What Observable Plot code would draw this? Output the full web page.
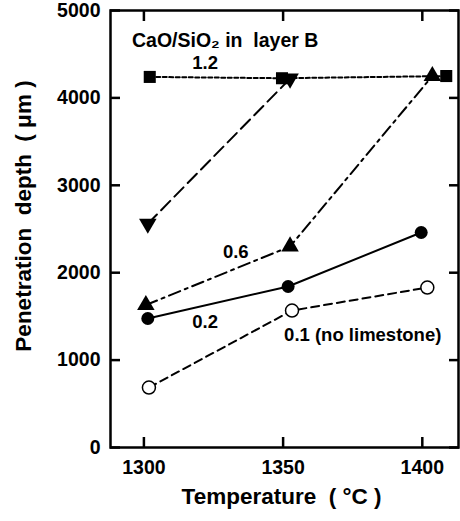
<!DOCTYPE html>
<html><head><meta charset="utf-8">
<script src="https://cdn.jsdelivr.net/npm/d3@7"></script>
<script src="https://cdn.jsdelivr.net/npm/@observablehq/plot@0.6"></script>
<style>
html,body{margin:0;padding:0;background:#fff;}
</style></head><body><div id="chart"></div>
<script>
// Temperatures (°C) and penetration depths (µm)
const ratio12_T = [1302.1, 1349.6, 1408.6];
const ratio12_D = [4240, 4225, 4250];
const seriesDown_T = [1301.4, 1352.5];
const seriesDown_D = [2560, 4220];
const ratio06_T = [1300.7, 1352.5, 1403.6];
const ratio06_D = [1630, 2300, 4250];
const ratio02_T = [1301.4, 1351.8, 1399.6];
const ratio02_D = [1476, 1842, 2460];
const ratio01_T = [1301.8, 1353.2, 1401.8];
const ratio01_D = [686, 1567, 1830];

const xTicks = [1300, 1350, 1400];
const yTicks = [0, 1000, 2000, 3000, 4000, 5000];

const titleText = ["CaO/SiO\u2082 in  layer B"];
const titleT = [1329.2];
const titleD = [4657];
const annText = ["1.2", "0.6", "0.2", "0.1 (no limestone)"];
const annT = [1322, 1333, 1322, 1378.6];
const annD = [4394, 2240, 1430, 1281];

const xTitle = "Temperature  ( \u00b0C )";
const yTitle = "Penetration  depth  ( \u03bcm )";

const rows = (T, D) => T.map((t, i) => ({t, d: D[i]}));
const r12 = rows(ratio12_T, ratio12_D);
const rDn = rows(seriesDown_T, seriesDown_D);
const r06 = rows(ratio06_T, ratio06_D);
const r02 = rows(ratio02_T, ratio02_D);
const r01 = rows(ratio01_T, ratio01_D);
const ann = annText.map((s, i) => ({s, t: annT[i], d: annD[i]}));
const ttl = titleText.map((s, i) => ({s, t: titleT[i], d: titleD[i]}));

const lw = 2;
const chart = Plot.plot({
  width: 460,
  height: 521,
  marginLeft: 110,
  marginRight: 2,
  marginTop: 10,
  marginBottom: 74,
  style: {fontFamily: '"Liberation Sans", Arial, Helvetica, sans-serif', fontWeight: "bold", fontSize: "19px", color: "black", background: "white"},
  x: {domain: [1288, 1413], label: null},
  y: {domain: [0, 5000], label: null},
  marks: [
    Plot.line(r12, {x: "t", y: "d", stroke: "black", strokeWidth: lw, strokeDasharray: "4,2.5"}),
    Plot.line(rDn, {x: "t", y: "d", stroke: "black", strokeWidth: lw, strokeDasharray: "13,6"}),
    Plot.line(r06, {x: "t", y: "d", stroke: "black", strokeWidth: lw, strokeDasharray: "12,5,3,5"}),
    Plot.line(r02, {x: "t", y: "d", stroke: "black", strokeWidth: lw}),
    Plot.line(r01, {x: "t", y: "d", stroke: "black", strokeWidth: lw, strokeDasharray: "8,5"}),
    Plot.dot(r12, {x: "t", y: "d", symbol: "square", fill: "black", r: 6.8}),
    Plot.dot(rDn, {x: "t", y: "d", symbol: "triangle", rotate: 180, fill: "black", r: 6.5}),
    Plot.dot(r06, {x: "t", y: "d", symbol: "triangle", fill: "black", r: 6.5}),
    Plot.dot(r02, {x: "t", y: "d", symbol: "circle", fill: "black", r: 6.5}),
    Plot.dot(r01, {x: "t", y: "d", symbol: "circle", fill: "white", stroke: "black", strokeWidth: 1.5, r: 6.5}),
    Plot.text(ttl, {x: "t", y: "d", text: "s", textAnchor: "middle", fontSize: 19.5, fontWeight: "bold", fill: "black"}),
    Plot.text(ann, {x: "t", y: "d", text: "s", textAnchor: "middle", fontSize: 18.5, fontWeight: "bold", fill: "black"}),
    Plot.frame({stroke: "black", strokeWidth: 2.5}),
    Plot.axisY(yTicks, {anchor: "left", tickSize: -10, tickPadding: 20, strokeWidth: 2.5, fontSize: 19.5, label: null, tickFormat: (d) => String(d)}),
    Plot.axisY(yTicks, {anchor: "right", tickSize: -10, strokeWidth: 2.5, fill: "none", label: null}),
    Plot.axisX(xTicks, {anchor: "bottom", tickSize: -10, tickPadding: 23, strokeWidth: 2.5, fontSize: 19.5, label: null, tickFormat: (d) => String(d)}),
    Plot.axisX(xTicks, {anchor: "top", tickSize: -10, strokeWidth: 2.5, fill: "none", label: null}),
    Plot.text([xTitle], {text: (d) => d, frameAnchor: "bottom", dy: 56, dx: -3, fontSize: 22.5, fontWeight: "bold", fill: "black"}),
    Plot.text([yTitle], {text: (d) => d, frameAnchor: "left", textAnchor: "middle", rotate: -90, dx: -87, dy: -13, fontSize: 22.5, fontWeight: "bold", fill: "black"})
  ]
});
document.getElementById("chart").append(chart);
</script>
</body></html>
